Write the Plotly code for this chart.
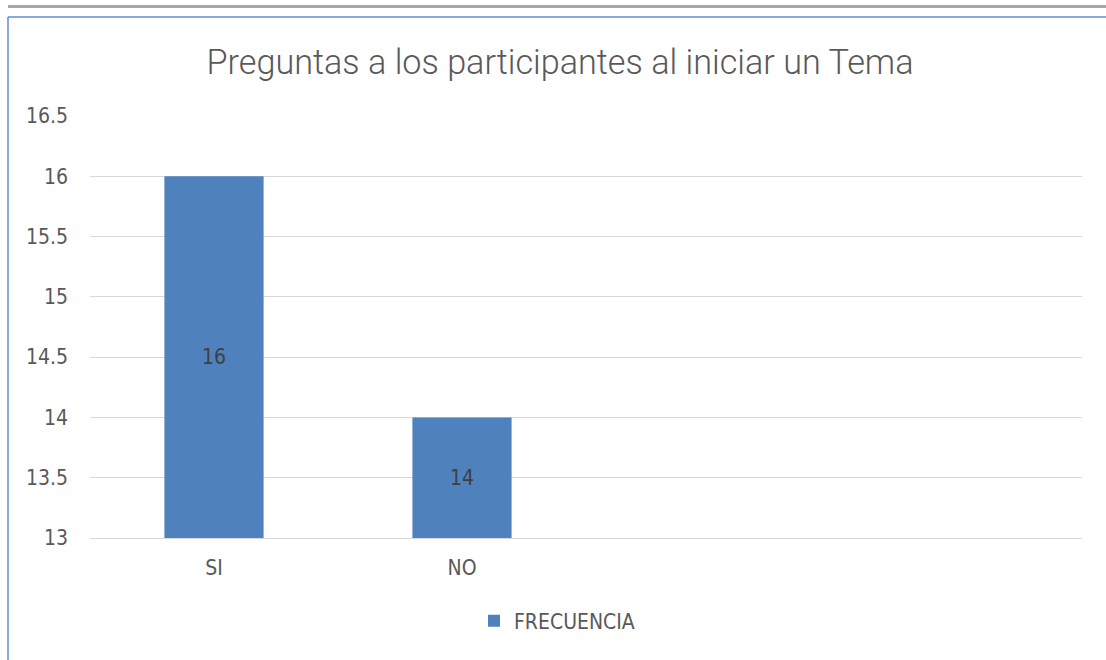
import plotly.graph_objects as go

categories = ["SI", "NO"]
frecuencia = [16, 14]
series_name = "FRECUENCIA"
y_ticks = [13, 13.5, 14, 14.5, 15, 15.5, 16, 16.5]

W, H = 1106, 660
L, R, T, B = 90, 1082, 116, 538
NARROW = "DejaVu Sans Condensed, Roboto, sans-serif"
GREY = "#595959"


def px(x):
    return (x - L) / (R - L)


def py(y):
    return (B - y) / (B - T)


y_min, y_max = y_ticks[0], y_ticks[-1]

fig = go.Figure()
fig.add_trace(go.Bar(
    x=categories, y=frecuencia, name=series_name,
    marker=dict(color="#4F81BD", line=dict(width=0)),
    width=0.4, textposition="none", showlegend=True,
))

# value labels centred in the visible part of each bar
for c, v in zip(categories, frecuencia):
    fig.add_annotation(x=c, y=(y_min + v) / 2, text=str(v), showarrow=False,
                       xref="x", yref="y",
                       font=dict(family=NARROW, size=21, color="#404040"))

fig.update_layout(
    width=W, height=H,
    margin=dict(l=L, r=W - R, t=T, b=H - B),
    paper_bgcolor="white", plot_bgcolor="white",
    font=dict(family=NARROW, color=GREY),
    title=dict(text="Preguntas a los participantes al iniciar un Tema",
               x=560 / W, xanchor="center", y=1 - 62 / H, yanchor="middle",
               font=dict(family="Roboto", size=34.2, color=GREY, weight=300)),
    xaxis=dict(type="category", range=[-0.5, 3.5], showgrid=False,
               showline=True, linecolor="#D9D9D9", linewidth=1,
               ticks="", tickfont=dict(family=NARROW, size=21, color=GREY), ticklabelstandoff=11),
    yaxis=dict(range=[y_min, y_max], tickvals=y_ticks, ticktext=[f"{v:g}" for v in y_ticks],
               showgrid=True, gridcolor="#D9D9D9", gridwidth=1, zeroline=False,
               ticks="", tickfont=dict(family=NARROW, size=21, color=GREY), ticklabelstandoff=21),
    legend=dict(orientation="h", x=px(474), xanchor="left", y=py(621), yanchor="middle",
                font=dict(family=NARROW, size=21, color=GREY), itemwidth=30),
    shapes=[
        dict(type="rect", xref="paper", yref="paper", x0=px(8), x1=px(1106), y0=py(8), y1=py(5),
             fillcolor="#A6A6A6", line=dict(width=0), layer="above"),
        dict(type="line", xref="paper", yref="paper", x0=px(8), x1=px(1106), y0=py(17), y1=py(17),
             line=dict(color="#5B8ED3", width=1.5)),
        dict(type="line", xref="paper", yref="paper", x0=px(8), x1=px(8), y0=py(17), y1=py(660),
             line=dict(color="#5B8ED3", width=1.5)),
    ],
)

fig.write_html("out.html", config={"displayModeBar": False},
               post_script="document.body.style.margin='0px';")
